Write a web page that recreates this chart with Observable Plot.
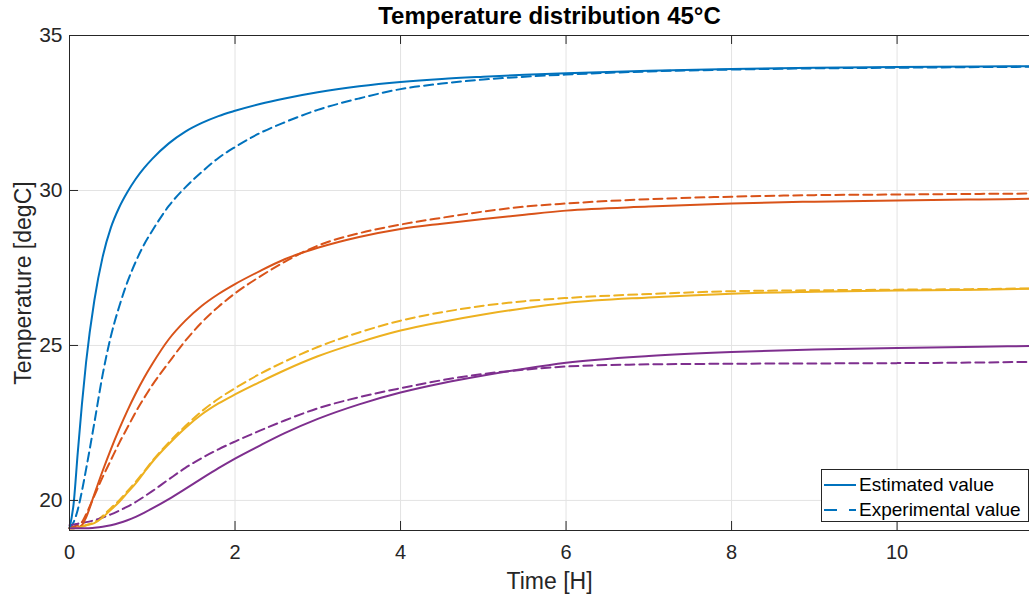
<!DOCTYPE html>
<html><head><meta charset="utf-8">
<script src="https://cdn.jsdelivr.net/npm/d3@7"></script>
<script src="https://cdn.jsdelivr.net/npm/@observablehq/plot@0.6"></script>
<style>
body{margin:0;background:#fff;font-family:"Liberation Sans",Arial,sans-serif;}
#wrap{position:relative;width:1029px;height:598px;overflow:hidden;}
#legend{position:absolute;left:821px;top:469px;width:208px;height:53px;border:1px solid #262626;background:#fff;box-sizing:border-box;}
#legend .row{position:absolute;left:0;height:24px;width:206px;}
#legend svg{position:absolute;left:2px;top:0;}
#legend span{position:absolute;left:37px;top:1px;font-size:19px;line-height:22px;color:#000;white-space:nowrap;}
</style></head><body>
<div id="wrap"></div>
<script>
const title = "Temperature distribution 45°C";
const xLabel = "Time [H]";
const yLabel = "Temperature [degC]";
const seriesNames = ["Estimated value", "Experimental value"];
const xTicks = [0, 2, 4, 6, 8, 10];
const yTicks = [20, 25, 30, 35];

const timeH = [0, 0.05, 0.1, 0.15, 0.2, 0.3, 0.4, 0.5, 0.6, 0.7, 0.8, 0.9, 1.0, 1.2, 1.4, 1.6, 1.8, 2.0, 2.3, 2.6, 3.0, 3.5, 4.0, 4.5, 5.0, 5.5, 6.0, 7.0, 8.0, 9.0, 10.0, 11.0, 11.6];

const sensor1Est = [19.1, 19.9, 21.55, 23.1, 24.45, 26.45, 27.85, 28.8, 29.45, 29.95, 30.37, 30.72, 31.02, 31.52, 31.9, 32.18, 32.4, 32.57, 32.79, 32.97, 33.17, 33.36, 33.5, 33.6, 33.67, 33.73, 33.78, 33.86, 33.92, 33.96, 33.98, 34.0, 34.01];
const sensor1Exp = [19.1, 19.3, 19.7, 20.3, 21.0, 22.5, 24.05, 25.3, 26.25, 27.05, 27.7, 28.25, 28.7, 29.5, 30.1, 30.6, 31.05, 31.4, 31.85, 32.2, 32.6, 32.97, 33.27, 33.45, 33.58, 33.67, 33.74, 33.84, 33.9, 33.94, 33.96, 33.98, 33.99];

const sensor2Est = [19.1, 19.1, 19.13, 19.2, 19.45, 20.2, 20.95, 21.65, 22.3, 22.9, 23.45, 23.95, 24.4, 25.2, 25.8, 26.28, 26.66, 26.98, 27.4, 27.78, 28.15, 28.5, 28.76, 28.93, 29.08, 29.22, 29.35, 29.48, 29.58, 29.64, 29.68, 29.71, 29.73];
const sensor2Exp = [19.1, 19.15, 19.2, 19.3, 19.55, 20.15, 20.75, 21.3, 21.85, 22.35, 22.85, 23.3, 23.72, 24.45, 25.15, 25.75, 26.25, 26.68, 27.22, 27.7, 28.22, 28.62, 28.9, 29.12, 29.32, 29.48, 29.58, 29.72, 29.8, 29.85, 29.87, 29.89, 29.9];

const sensor3Est = [19.1, 19.1, 19.12, 19.15, 19.2, 19.27, 19.45, 19.7, 19.95, 20.25, 20.55, 20.9, 21.24, 21.82, 22.34, 22.78, 23.13, 23.42, 23.82, 24.2, 24.65, 25.1, 25.48, 25.76, 26.0, 26.2, 26.37, 26.55, 26.67, 26.73, 26.77, 26.8, 26.83];
const sensor3Exp = [19.1, 19.1, 19.12, 19.15, 19.2, 19.3, 19.5, 19.75, 20.0, 20.3, 20.6, 20.93, 21.27, 21.87, 22.4, 22.88, 23.28, 23.62, 24.08, 24.48, 24.95, 25.42, 25.8, 26.07, 26.28, 26.43, 26.53, 26.66, 26.75, 26.78, 26.8, 26.82, 26.84];

const sensor4Est = [19.1, 19.1, 19.1, 19.1, 19.1, 19.12, 19.15, 19.2, 19.27, 19.36, 19.47, 19.6, 19.74, 20.04, 20.37, 20.71, 21.04, 21.35, 21.77, 22.17, 22.63, 23.1, 23.48, 23.78, 24.03, 24.25, 24.44, 24.66, 24.79, 24.87, 24.92, 24.96, 24.98];
const sensor4Exp = [19.2, 19.22, 19.25, 19.28, 19.3, 19.36, 19.45, 19.55, 19.67, 19.8, 19.95, 20.12, 20.3, 20.68, 21.05, 21.37, 21.65, 21.9, 22.25, 22.58, 22.97, 23.33, 23.62, 23.88, 24.08, 24.22, 24.32, 24.39, 24.41, 24.42, 24.43, 24.45, 24.47];

const sensors = ["S1", "S2", "S3", "S4"];
const colors = ["#0072BD", "#D95319", "#EDB120", "#7E2F8E"];
const estSeries = [sensor1Est, sensor2Est, sensor3Est, sensor4Est];
const expSeries = [sensor1Exp, sensor2Exp, sensor3Exp, sensor4Exp];

const toRows = (arrs) => arrs.flatMap((vals, i) => vals.map((v, j) => ({t: timeH[j], T: v, s: sensors[i]})));
const estRows = toRows(estSeries);
const expRows = toRows(expSeries);

const yMin = 19.03, yMax = 35, xMax = 11.6;
const font = "'Liberation Sans', Arial, sans-serif";

const chart = Plot.plot({
  width: 1029, height: 598,
  marginLeft: 69, marginRight: 0, marginTop: 35, marginBottom: 68,
  style: {fontFamily: font, background: "#fff", overflow: "visible"},
  x: {domain: [0, xMax]},
  y: {domain: [yMin, yMax]},
  color: {domain: sensors, range: colors},
  marks: [
    Plot.ruleX(xTicks.slice(1), {stroke: "#e3e3e3", strokeWidth: 1}),
    Plot.ruleY(yTicks.slice(0, -1), {stroke: "#e3e3e3", strokeWidth: 1}),
    Plot.line(expRows, {x: "t", y: "T", z: "s", stroke: "s", strokeWidth: 2, strokeDasharray: "9,5", curve: "monotone-x"}),
    Plot.line(estRows, {x: "t", y: "T", z: "s", stroke: "s", strokeWidth: 2, curve: "monotone-x"}),
    Plot.ruleY([yMin], {stroke: "#262626", strokeWidth: 1}),
    Plot.ruleY([yMax], {stroke: "#262626", strokeWidth: 1}),
    Plot.ruleX([0], {stroke: "#262626", strokeWidth: 1}),
    Plot.ruleX(xTicks, {y1: yMin, y2: yMin + 0.29, stroke: "#262626"}),
    Plot.ruleX(xTicks, {y1: yMax - 0.29, y2: yMax, stroke: "#262626"}),
    Plot.ruleY(yTicks, {x1: 0, x2: 0.109, stroke: "#262626"}),
    Plot.axisX({ticks: xTicks, tickSize: 0, tickPadding: 14, fontSize: 20, label: null, color: "#262626"}),
    Plot.axisY({ticks: yTicks, tickSize: 0, tickPadding: 7, fontSize: 21, label: null, color: "#262626"}),
    Plot.text([title], {frameAnchor: "top", lineAnchor: "middle", dy: -19, fontSize: 24, fontWeight: "bold", fill: "#000"}),
    Plot.text([xLabel], {frameAnchor: "bottom", lineAnchor: "middle", dy: 51, fontSize: 23, fill: "#262626"}),
    Plot.text([yLabel], {frameAnchor: "left", textAnchor: "middle", lineAnchor: "middle", dx: -46, rotate: -90, fontSize: 23, fill: "#262626"})
  ]
});
const wrap = document.getElementById("wrap");
wrap.appendChild(chart);

const legend = document.createElement("div");
legend.id = "legend";
const dashes = [null, "13,12"];
seriesNames.forEach((name, i) => {
  const row = document.createElement("div");
  row.className = "row";
  row.style.top = (3 + i * 25) + "px";
  const svg = d3.create("svg").attr("width", 34).attr("height", 24);
  const ln = svg.append("line").attr("x1", 0).attr("x2", 32).attr("y1", 12).attr("y2", 12)
    .attr("stroke", colors[0]).attr("stroke-width", 2);
  if (dashes[i]) ln.attr("stroke-dasharray", dashes[i]);
  row.appendChild(svg.node());
  const sp = document.createElement("span");
  sp.textContent = name;
  row.appendChild(sp);
  legend.appendChild(row);
});
wrap.appendChild(legend);
</script>
</body></html>
